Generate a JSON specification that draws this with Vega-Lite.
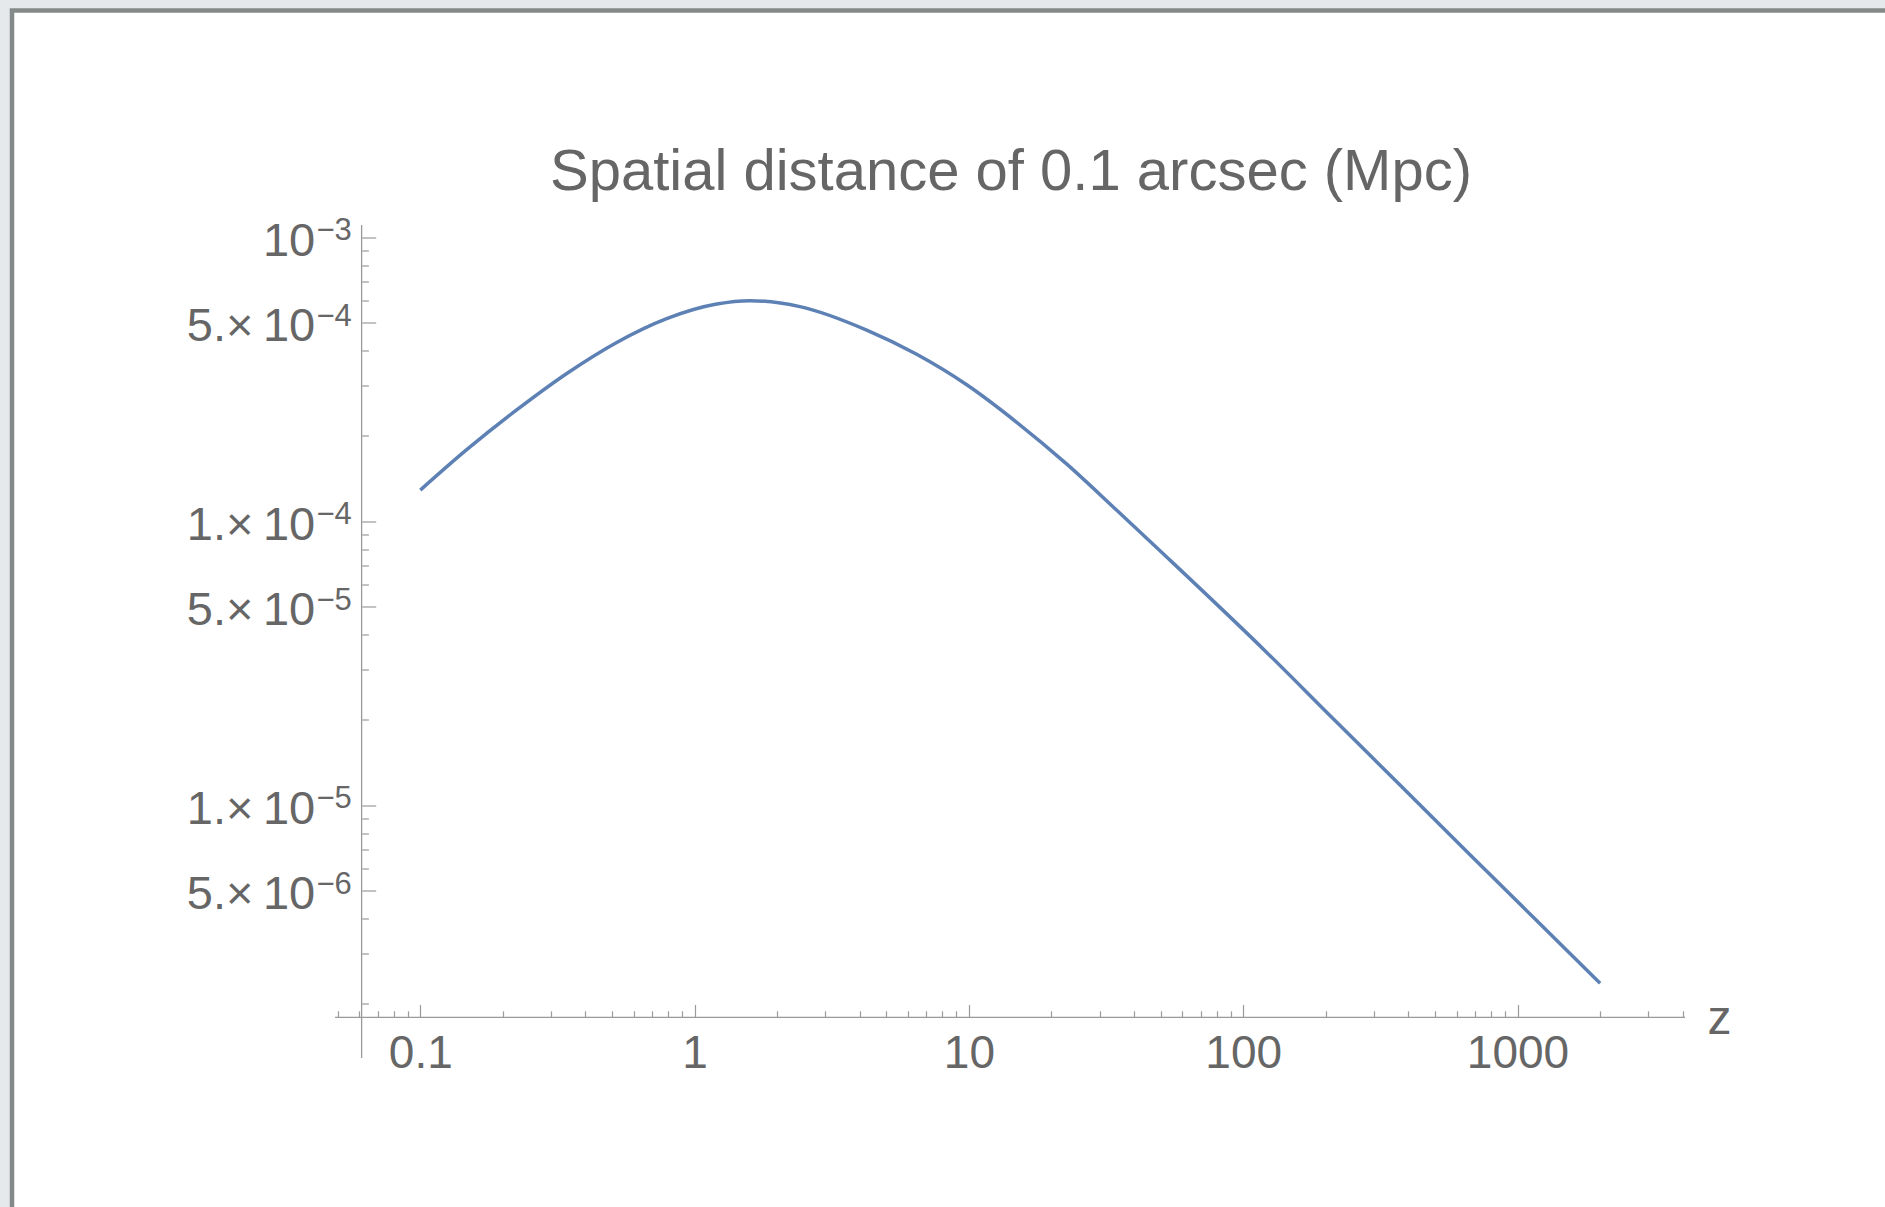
{
  "$schema": "https://vega.github.io/schema/vega-lite/v6.json",
  "width": 1878,
  "height": 1201.5,
  "autosize": {"type": "none"},
  "padding": {"left": 12, "top": 10.5, "right": -5, "bottom": -5},
  "background": "#e6e9ec",
  "config": {"view": {"fill": "white", "stroke": "#838a88", "strokeWidth": 4.5}},
  "title": {
    "text": "Spatial distance of 0.1 arcsec (Mpc)",
    "font": "Liberation Sans",
    "fontSize": 58,
    "fontWeight": "normal",
    "color": "#666666",
    "anchor": "middle",
    "frame": "group",
    "orient": "top",
    "baseline": "alphabetic",
    "offset": -237,
    "dx": 60
  },
  "layer": [
    {
      "data": {"values": [
        {"x1": 0.0489, "x2": 4083, "y1": 1.793e-6, "y2": 1.793e-6},
        {"x1": 0.0611, "x2": 0.0611, "y1": 1.29e-6, "y2": 1.107e-3}
      ]},
      "mark": {"type": "rule", "color": "#9a9a9a", "strokeWidth": 1.3},
      "encoding": {
        "x": {
          "field": "x1", "type": "quantitative",
          "scale": {"type": "log", "domain": [0.0032467, 22803], "nice": false, "zero": false},
          "axis": {
            "orient": "bottom", "offset": -194.5, "domain": false, "grid": false,
            "values": [0.05,0.06,0.07,0.08,0.09,0.1,0.2,0.3,0.4,0.5,0.6,0.7,0.8,0.9,1,2,3,4,5,6,7,8,9,10,20,30,40,50,60,70,80,90,100,200,300,400,500,600,700,800,900,1000,2000,3000,4000],
            "tickSize": {"condition": {"test": "datum.value==0.1||datum.value==1||datum.value==10||datum.value==100||datum.value==1000", "value": -13}, "value": -6.7},
            "tickColor": "#9a9a9a", "tickWidth": 1.2,
            "labelExpr": "datum.value==0.1?'0.1':datum.value==1?'1':datum.value==10?'10':datum.value==100?'100':datum.value==1000?'1000':''",
            "labelFont": "Liberation Sans", "labelFontSize": 46, "labelColor": "#666666",
            "labelBaseline": "alphabetic", "labelPadding": 62.5,
            "labelOverlap": false, "labelFlush": false, "labelBound": false,
            "title": "z", "titleFont": "Liberation Sans", "titleFontSize": 48, "titleFontWeight": "normal",
            "titleColor": "#666666", "titleAlign": "left", "titleBaseline": "alphabetic",
            "titleX": 1695, "titleY": 15.5, "titleAngle": 0
          }
        },
        "x2": {"field": "x2"},
        "y": {
          "field": "y1", "type": "quantitative",
          "scale": {"type": "log", "domain": [3.7037e-7, 6.2984e-3], "nice": false, "zero": false},
          "axis": {
            "orient": "left", "offset": -349.7, "domain": false, "grid": false,
            "values": [0.000002,0.000003,0.000004,0.000005,0.000006,0.000007,0.000008,0.000009,0.00001,0.00002,0.00003,0.00004,0.00005,0.00006,0.00007,0.00008,0.00009,0.0001,0.0002,0.0003,0.0004,0.0005,0.0006,0.0007,0.0008,0.0009,0.001],
            "tickSize": {"condition": {"test": "indexof([0.001,0.0005,0.0001,0.00005,0.00001,0.000005], datum.value) >= 0", "value": -14}, "value": -6.7},
            "tickColor": "#9a9a9a", "tickWidth": 1.2,
            "labelExpr": "datum.value==0.001?'10':datum.value==0.0005?'5.×\u200910':datum.value==0.0001?'1.×\u200910':datum.value==0.00005?'5.×\u200910':datum.value==0.00001?'1.×\u200910':datum.value==0.000005?'5.×\u200910':''",
            "labelFont": "Liberation Sans", "labelFontSize": 47, "labelColor": "#666666",
            "labelBaseline": "alphabetic", "labelOffset": 17.7, "labelPadding": 61, "labelAlign": "right",
            "labelOverlap": false, "labelFlush": false, "labelBound": false,
            "title": null
          }
        },
        "y2": {"field": "y2"}
      }
    },
    {
      "data": {"values": [
        {"v": 0.001, "e": "−3"},
        {"v": 0.0005, "e": "−4"},
        {"v": 0.0001, "e": "−4"},
        {"v": 0.00005, "e": "−5"},
        {"v": 0.00001, "e": "−5"},
        {"v": 0.000005, "e": "−6"}
      ]},
      "mark": {"type": "text", "align": "left", "baseline": "alphabetic", "font": "Liberation Sans", "fontSize": 31, "color": "#666666", "dy": 3},
      "encoding": {
        "x": {"datum": 0.0418, "type": "quantitative"},
        "y": {"field": "v", "type": "quantitative"},
        "text": {"field": "e"}
      }
    },
    {
      "data": {"values": [
        {"z": 0.1, "d": 1.29e-4},
        {"z": 0.1476, "d": 1.79e-4},
        {"z": 0.2245, "d": 2.47e-4},
        {"z": 0.342, "d": 3.32e-4},
        {"z": 0.52, "d": 4.27e-4},
        {"z": 0.791, "d": 5.18e-4},
        {"z": 1.204, "d": 5.83e-4},
        {"z": 1.59, "d": 5.99e-4},
        {"z": 2.42, "d": 5.71e-4},
        {"z": 4.24, "d": 4.72e-4},
        {"z": 6.45, "d": 3.88e-4},
        {"z": 9.82, "d": 3.03e-4},
        {"z": 14.9, "d": 2.24e-4},
        {"z": 22.7, "d": 1.595e-4},
        {"z": 34.6, "d": 1.095e-4},
        {"z": 52.6, "d": 7.5e-5},
        {"z": 121.8, "d": 3.46e-5},
        {"z": 212.9, "d": 2.02e-5},
        {"z": 372.9, "d": 1.18e-5},
        {"z": 653, "d": 6.88e-6},
        {"z": 1142, "d": 4.04e-6},
        {"z": 2000, "d": 2.366e-6}
      ]},
      "mark": {"type": "line", "color": "#5e81b5", "strokeWidth": 3.5, "interpolate": "monotone"},
      "encoding": {
        "x": {"field": "z", "type": "quantitative"},
        "y": {"field": "d", "type": "quantitative"}
      }
    }
  ]
}
